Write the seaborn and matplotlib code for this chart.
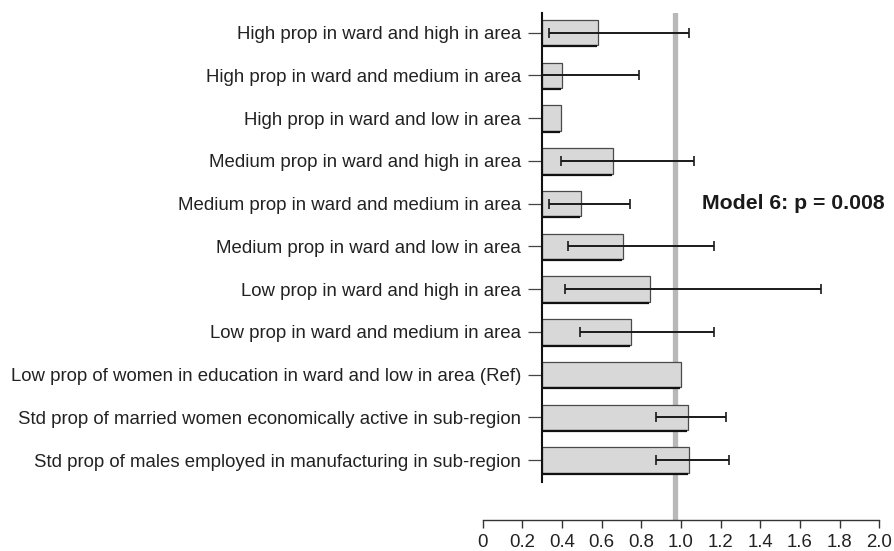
import numpy as np
import pandas as pd
import matplotlib
matplotlib.use("Agg")
import matplotlib.pyplot as plt
from matplotlib.patches import Rectangle
import seaborn as sns

# Odds ratios with 95% confidence intervals
categories = [
    "High prop in ward and high in area",
    "High prop in ward and medium in area",
    "High prop in ward and low in area",
    "Medium prop in ward and high in area",
    "Medium prop in ward and medium in area",
    "Medium prop in ward and low in area",
    "Low prop in ward and high in area",
    "Low prop in ward and medium in area",
    "Low prop of women in education in ward and low in area (Ref)",
    "Std prop of married women economically active in sub-region",
    "Std prop of males employed in manufacturing in sub-region",
]
odds_ratio = [0.58, 0.40, 0.395, 0.655, 0.495, 0.705, 0.845, 0.75, 1.0, 1.037, 1.04]
ci_lower = [0.335, 0.20, np.nan, 0.395, 0.333, 0.432, 0.417, 0.489, np.nan, 0.872, 0.872]
ci_upper = [1.04, 0.79, np.nan, 1.066, 0.744, 1.166, 1.705, 1.166, np.nan, 1.229, 1.241]
x_ticks = [0, 0.2, 0.4, 0.6, 0.8, 1.0, 1.2, 1.4, 1.6, 1.8, 2.0]
x_tick_labels = ["0", "0.2", "0.4", "0.6", "0.8", "1.0", "1.2", "1.4", "1.6", "1.8", "2.0"]
bar_base = 0.3
reference_line = 0.968
annotation = "Model 6: p = 0.008"

df = pd.DataFrame({"label": categories, "or": odds_ratio,
                   "lo": ci_lower, "hi": ci_upper})

sns.set_style("white")
plt.rcParams["font.family"] = ["Liberation Sans", "DejaVu Sans"]

fig = plt.figure(figsize=(8.94, 5.51), dpi=100)
ax = fig.add_axes([482.7 / 894, 1 - 520 / 551, (879.3 - 482.7) / 894, (520 - 13) / 551])

sns.barplot(data=df, x="or", y="label", orient="h", order=categories,
            color="#d8d8d8", edgecolor="#4a4a4a", linewidth=0.9,
            width=0.6, saturation=1, errorbar=None, ax=ax, zorder=2)

# bars start from the axis baseline rather than zero
for patch, val in zip(ax.patches, df["or"]):
    patch.set_x(bar_base)
    patch.set_width(val - bar_base)

ypos = np.arange(len(categories))
# dark shadow along the lower edge of each bar
ax.hlines(ypos + 0.3 + 0.02, bar_base, df["or"] - 0.005, color="#111111",
          linewidth=1.6, zorder=2.5)

ax.axvline(reference_line, color="#b8b8b8", linewidth=3.8, zorder=1)

mask = df["lo"].notna().to_numpy()
eb = ax.errorbar(df["or"][mask], ypos[mask],
                 xerr=[(df["or"] - df["lo"])[mask], (df["hi"] - df["or"])[mask]],
                 fmt="none", ecolor="#1a1a1a", elinewidth=1.4,
                 capsize=3.3, capthick=1.2, zorder=3)
clip = Rectangle((bar_base, -1), 5, 20, transform=ax.transData)
for artist in list(eb.lines[1]) + list(eb.lines[2]):
    artist.set_clip_path(clip)

ax.text(1.105, 4, annotation, fontsize=15.3, fontweight="bold",
        color="#1a1a1a", va="center", ha="left")

ax.set_xlim(0, 2.0)
ax.set_ylim(11.4, -0.46)
ax.set_xlabel("")
ax.set_ylabel("")

ax.spines["top"].set_visible(False)
ax.spines["right"].set_visible(False)
ax.spines["left"].set_position(("data", bar_base))
ax.spines["left"].set_bounds(10.5, -0.46)
ax.spines["left"].set_linewidth(1.5)
ax.spines["left"].set_color("#111111")
ax.spines["bottom"].set_bounds(0, 2.0)
ax.spines["bottom"].set_linewidth(1.0)
ax.spines["bottom"].set_color("#333333")

ax.set_xticks(x_ticks)
ax.set_xticklabels(x_tick_labels)
ax.tick_params(axis="x", direction="out", length=5.8, width=1.0, color="#333333",
               labelsize=13.4, labelcolor="#222222", pad=4, bottom=True)
ax.tick_params(axis="y", direction="out", length=10, width=0.9, color="#444444",
               labelsize=13.4, labelcolor="#222222", pad=5, left=True)

fig.savefig("out.png", dpi=100)
